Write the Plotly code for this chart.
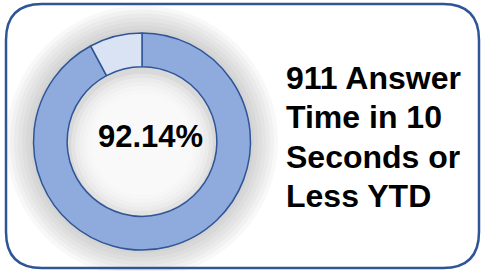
import plotly.graph_objects as go

# Data
labels = ["Answered in 10s or less", "Other"]
values = [92.14, 7.86]
title_lines = ["911 Answer", "Time in 10", "Seconds or", "Less YTD"]

W, H = 481, 271
cx, cy, R = 142, 141.5, 108.5   # donut centre / outer radius in pixels (from top)
hole = 0.69
border = "#2F5597"

fig = go.Figure()

fig.add_trace(go.Pie(
    labels=labels, values=values, sort=False, direction="clockwise", rotation=0,
    hole=hole, textinfo="none", hoverinfo="label+percent",
    marker=dict(colors=["#8FAADC", "#DAE3F3"], line=dict(color=border, width=1.5)),
    domain=dict(x=[(cx - R) / W, (cx + R) / W],
                y=[(H - cy - R) / H, (H - cy + R) / H]),
    showlegend=False,
))

shapes = []
# outer soft glow
for r in range(int(R) + 28, int(R) - 2, -4):
    shapes.append(dict(type="circle", xref="x", yref="y", layer="below",
                       x0=cx - r, x1=cx + r, y0=cy - r, y1=cy + r,
                       fillcolor="#808080", opacity=0.055, line=dict(width=0)))
# inner shadow of the hole
ri = R * hole
shapes.append(dict(type="circle", xref="x", yref="y", layer="below",
                   x0=cx - ri, x1=cx + ri, y0=cy - ri, y1=cy + ri,
                   fillcolor="white", opacity=1, line=dict(width=0)))
shapes.append(dict(type="circle", xref="x", yref="y", layer="below",
                   x0=cx - ri, x1=cx + ri, y0=cy - ri, y1=cy + ri,
                   fillcolor="#9a9a9a", opacity=0.38, line=dict(width=0)))
for k in range(1, 7):
    r = ri - 4 * k
    shapes.append(dict(type="circle", xref="x", yref="y", layer="below",
                       x0=cx - r, x1=cx + r, y0=cy - r + 3, y1=cy + r + 3,
                       fillcolor="white", opacity=0.28, line=dict(width=0)))

# rounded border
x0, x1, y0, y1, rr = 6, 479, 4, 268, 36
path = (f"M {x0+rr},{y0} L {x1-rr},{y0} Q {x1},{y0} {x1},{y0+rr} "
        f"L {x1},{y1-rr} Q {x1},{y1} {x1-rr},{y1} L {x0+rr},{y1} "
        f"Q {x0},{y1} {x0},{y1-rr} L {x0},{y0+rr} Q {x0},{y0} {x0+rr},{y0} Z")
shapes.append(dict(type="path", path=path, xref="x", yref="y", layer="above",
                   line=dict(color=border, width=2.5)))

font_family = "Liberation Sans, Arial"
annotations = [
    dict(x=150, y=136, xref="x", yref="y", showarrow=False,
         text=f"<b>{values[0]:.2f}%</b>",
         font=dict(family=font_family, size=31, color="black")),
]
title_size = 32
baselines = [89, 128.5, 168.5, 207.5]
for line, b in zip(title_lines, baselines):
    annotations.append(dict(x=284, y=b - 0.357 * title_size, xref="x", yref="y",
                            showarrow=False, xanchor="left", yanchor="middle",
                            align="left", text=f"<b>{line}</b>",
                            font=dict(family=font_family, size=title_size, color="black")))

fig.update_layout(
    width=W, height=H, margin=dict(l=0, r=0, t=0, b=0),
    paper_bgcolor="white", plot_bgcolor="rgba(0,0,0,0)",
    xaxis=dict(range=[0, W], visible=False, fixedrange=True),
    yaxis=dict(range=[H, 0], visible=False, fixedrange=True),
    shapes=shapes,
    annotations=annotations,
)

fig.write_html("out.html", config={"displayModeBar": False},
               post_script="document.body.style.margin='0px';")
